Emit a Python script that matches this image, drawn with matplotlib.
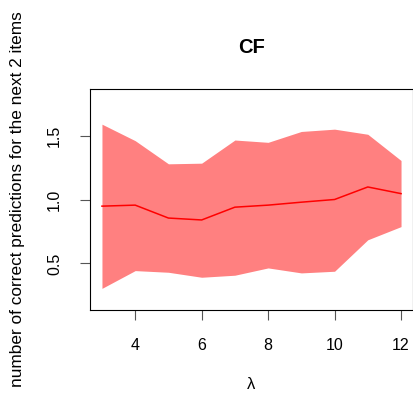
import numpy as np
import matplotlib
matplotlib.use("Agg")
import matplotlib.pyplot as plt

plt.rcParams['font.family'] = ['Liberation Sans', 'DejaVu Sans']

# lambda values and the mean / band of correct predictions
lam = [3, 4, 5, 6, 7, 8, 9, 10, 11, 12]
mean_pred = [0.948, 0.956, 0.855, 0.840, 0.940, 0.956, 0.979, 1.000, 1.098, 1.046]
upper = [1.589, 1.460, 1.279, 1.284, 1.465, 1.447, 1.532, 1.550, 1.510, 1.305]
lower = [0.305, 0.444, 0.431, 0.392, 0.408, 0.465, 0.426, 0.439, 0.685, 0.788]

fig = plt.figure(figsize=(4.13, 3.93), dpi=100)
ax = fig.add_axes([90 / 413, 1 - 310 / 393, 323 / 413, 221 / 393])

ax.fill_between(lam, lower, upper, color='#ff8080', linewidth=0)
ax.plot(lam, mean_pred, color='#ff0000', linewidth=1.1)

# R-style axis ranges (4% padding)
ax.set_xlim(3 - 0.36, 12 + 0.36)
ax.set_ylim(0.2 - 0.064, 1.8 + 0.064)
ax.set_xticks([4, 6, 8, 10, 12])
ax.set_yticks([0.5, 1.0, 1.5])
ax.set_yticklabels(['0.5', '1.0', '1.5'], rotation=90, va='center')

ax.tick_params(direction='out', length=7.5, width=0.8, labelsize=11.5, pad=12.5,
               color='#555555')
for s in ax.spines.values():
    s.set_linewidth(0.8)
    s.set_color('black')

ax.set_title('CF', fontsize=14.5, fontweight='bold', pad=26)
ax.set_xlabel('λ', fontsize=12)
ax.xaxis.set_label_coords(0.5, -0.335)
ax.xaxis.label.set_va('center')
ax.set_ylabel('number of correct predictions for the next 2 items', fontsize=12.4)
ax.yaxis.set_label_coords(-0.225, 0.5)
ax.yaxis.label.set_va('center')

fig.savefig('out.png', dpi=100)
